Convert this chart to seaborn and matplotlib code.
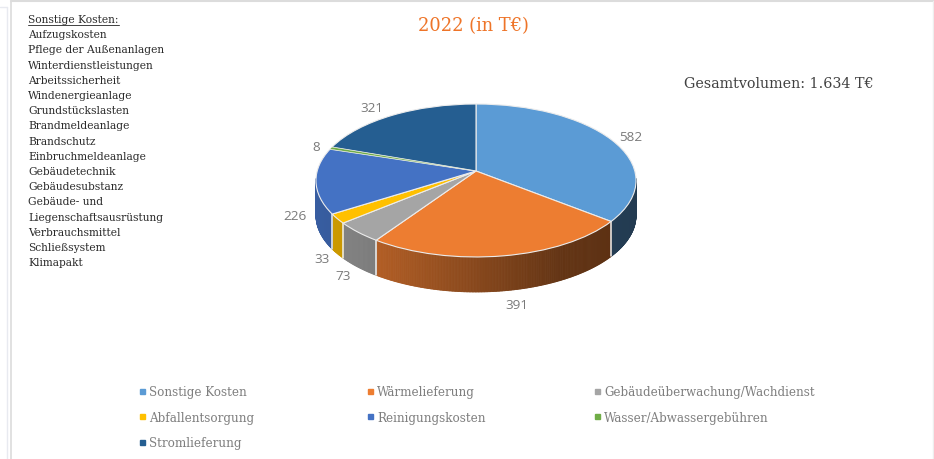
import numpy as np
import matplotlib
matplotlib.use("Agg")
import matplotlib.pyplot as plt
import seaborn as sns
from matplotlib.collections import PolyCollection
from matplotlib.lines import Line2D
from matplotlib.transforms import Transform

categories = ["Sonstige Kosten", "Wärmelieferung", "Gebäudeüberwachung/Wachdienst",
              "Abfallentsorgung", "Reinigungskosten", "Wasser/Abwassergebühren", "Stromlieferung"]
values = [582, 391, 73, 33, 226, 8, 321]
colors = ["#5B9BD5", "#ED7D31", "#A5A5A5", "#FFC000", "#4472C4", "#70AD47", "#255E91"]
notes = ["Sonstige Kosten:", "Aufzugskosten", "Pflege der Außenanlagen", "Winterdienstleistungen",
         "Arbeitssicherheit", "Windenergieanlage", "Grundstückslasten", "Brandmeldeanlage",
         "Brandschutz", "Einbruchmeldeanlage", "Gebäudetechnik", "Gebäudesubstanz",
         "Gebäude- und", "Liegenschaftsausrüstung", "Verbrauchsmittel", "Schließsystem", "Klimapakt"]
title = "2022 (in T€)"
total_label = "Gesamtvolumen: 1.634 T€"

# layout (pixels)
CX, CY, BX, AY, K, DEPTH = 476.0, 172.0, 158.8, 75.3, 0.124, 35.0
LABEL_POS = [(631, 138), (517, 306), (343, 277), (322, 260), (295, 217), (316, 148), (372, 108)]
LEGEND_COLS = [(138.4, [0, 3, 6]), (366.4, [1, 4]), (593.4, [2, 5])]

sns.set_theme(style="white")
SERIF = "DejaVu Serif"
fig = plt.figure(figsize=(9.34, 4.6), dpi=100, facecolor="white")
ax = fig.add_axes([0, 0, 1, 1])


def project(u, v):
    w = 1 + K * v
    return CX + BX * u / w, CY - AY * v / w


class Perspective(Transform):
    input_dims = output_dims = 2
    is_separable = False
    has_inverse = False

    def transform_non_affine(self, values):
        v = np.asarray(values, dtype=float)
        return np.column_stack(project(v[:, 0], v[:, 1]))


def wall_shade(x):
    return np.interp(x, [316, 377, 560, 636], [0.82, 0.75, 0.42, 0.38])


# side walls
edges = np.concatenate([[0], np.cumsum(values)]) / np.sum(values) * 2 * np.pi
for i, col in enumerate(colors):
    th = np.linspace(edges[i], edges[i + 1], max(3, int((edges[i + 1] - edges[i]) * 120)))
    x, y = project(np.sin(th), np.cos(th))
    polys, faces = [], []
    base = np.array(matplotlib.colors.to_rgb(col))
    for j in range(len(th) - 1):
        if np.cos(th[j]) > -0.1 and np.cos(th[j + 1]) > -0.1:
            continue
        polys.append([(x[j], y[j]), (x[j + 1], y[j + 1]),
                      (x[j + 1], y[j + 1] + DEPTH), (x[j], y[j] + DEPTH)])
        faces.append(base * wall_shade((x[j] + x[j + 1]) / 2))
    if polys:
        ax.add_collection(PolyCollection(polys, facecolors=faces, edgecolors=faces, linewidths=0.6))
    if np.cos(edges[i + 1]) < -0.1 and i < len(colors) - 1:
        ax.plot([x[-1], x[-1]], [y[-1], y[-1] + DEPTH], color="#f0f0f0", lw=1.1, zorder=2)

# top surface
wedges, _ = ax.pie(values, colors=colors, startangle=90, counterclock=False, radius=1.0,
                   wedgeprops=dict(edgecolor="#ececec", linewidth=0.8))
persp = Perspective() + ax.transData
for wd in wedges:
    wd.set_transform(persp)
    wd.set_zorder(3)
wedges[5].set_zorder(4)
wedges[5].set_linewidth(0.3)

ax.set_xlim(0, 934)
ax.set_ylim(460, 0)
ax.set_aspect("auto")
ax.axis("off")

# data labels
for val, (lx, ly) in zip(values, LABEL_POS):
    ax.text(lx, ly, str(val), ha="center", va="center", fontsize=9.7, color="#7a7a7a", family="Open Sans")

# texts
ax.text(473, 26, title, ha="center", va="center", fontsize=12.9, color="#EE7428", family=SERIF)
ax.text(778.5, 84.5, total_label, ha="center", va="center", fontsize=10.3, color="#404040", family=SERIF)
note_texts = []
for i, n in enumerate(notes):
    t = ax.text(28, 20 + i * 15.2, n, ha="left", va="center", fontsize=7.65, color="#2a2a2a", family=SERIF)
    note_texts.append(t)
fig.canvas.draw()
bb = note_texts[0].get_window_extent().transformed(ax.transData.inverted())
ax.plot([bb.x0, bb.x1], [26, 26], color="#404040", lw=0.7)

# legend: three aligned columns
for n, (x0, idx) in enumerate(LEGEND_COLS):
    handles = [Line2D([], [], marker="s", ls="none", ms=3.6, color=colors[i]) for i in idx]
    leg = ax.legend(handles, [categories[i] for i in idx], frameon=False,
                    loc="upper left", bbox_to_anchor=(x0 / 934, 1 - 386 / 460),
                    prop=dict(family=SERIF, size=8.6), labelcolor="#7f7f7f",
                    handlelength=0.6, handletextpad=0.29,
                    labelspacing=1.06, borderpad=0, borderaxespad=0)
    if n < len(LEGEND_COLS) - 1:
        ax.add_artist(leg)

# surrounding frame of the screenshot
ax.plot([7, 7], [8, 460], color="#e8eaf0", lw=1.0)
ax.plot([0, 7], [8, 8], color="#e8eaf0", lw=1.0)
ax.plot([11, 11], [2, 460], color="#dcdcdc", lw=1.2)
ax.plot([11, 934], [1.5, 1.5], color="#dcdcdc", lw=1.5)
ax.plot([933.3, 933.3], [2, 460], color="#eeeeee", lw=1.0)

fig.savefig("out.png", dpi=100, facecolor="white")
